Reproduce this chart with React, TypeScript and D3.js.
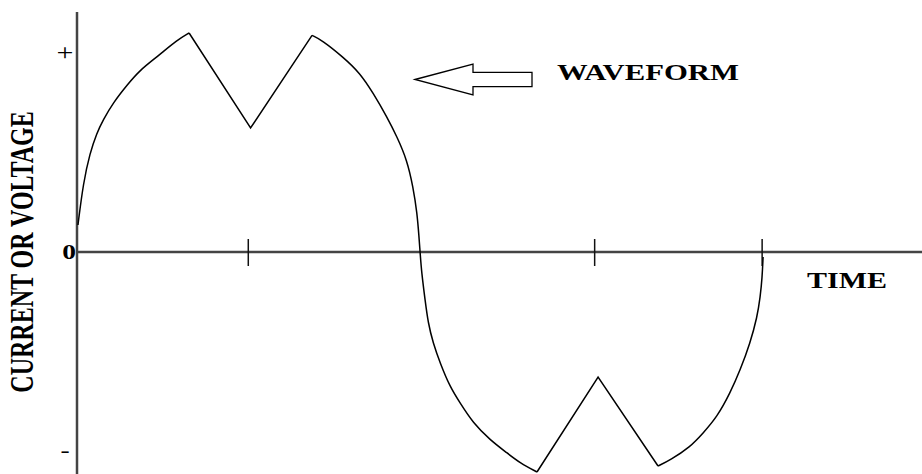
import React from "react";
import * as d3 from "d3";

// Waveform: phase in degrees, value in units of peak (+/- = 1)
const arc1Deg = [0.5, 3.3, 6.8, 10.4, 13.7, 18.9, 26.3, 33.1, 42.0, 52.6, 58.9];
const arc1Val = [0.135, 0.345, 0.495, 0.595, 0.66, 0.745, 0.835, 0.91, 0.975, 1.06, 1.095];
const notch1Deg = [58.9, 91.2, 123.5];
const notch1Val = [1.095, 0.62, 1.083];
const arc2Deg = [123.5, 128.6, 139.8, 148.7, 155.6, 162.9, 168.2, 173.4, 176.6, 178.7, 179.7, 180.3, 181.1, 182.9, 184.5, 187.1, 190.8, 196.0, 201.3, 208.1, 217.1, 226.0, 232.8, 241.7];
const arc2Val = [1.083, 1.06, 0.975, 0.895, 0.795, 0.675, 0.575, 0.46, 0.325, 0.195, 0.075, -0.005, -0.105, -0.24, -0.355, -0.455, -0.555, -0.675, -0.755, -0.855, -0.94, -1.005, -1.055, -1.1];
const notch2Deg = [241.7, 273.8, 305.3];
const notch2Val = [-1.1, -0.625, -1.07];
const arc3Deg = [305.3, 311.7, 322.2, 329.0, 336.3, 343.2, 348.5, 353.7, 357.4, 359.0, 360.0, 360.5];
const arc3Val = [-1.07, -1.04, -0.975, -0.905, -0.825, -0.705, -0.59, -0.455, -0.325, -0.225, -0.13, -0.025];

const xTickDeg = [90, 272, 360];
const yTickVals = [1, 0, -1];
const yTickLabels = ["+", "0", "-"];

const W = 922;
const H = 474;

const x = d3.scaleLinear().domain([0, 444]).range([77, 922]);
const y = d3.scaleLinear().domain([-1, 1]).range([452, 52]);

const zip = (a: number[], b: number[]) => a.map((d, i) => [d, b[i]] as [number, number]);

const smooth = d3
  .line<[number, number]>()
  .x((d) => x(d[0]))
  .y((d) => y(d[1]))
  .curve(d3.curveBasis);
const straight = d3
  .line<[number, number]>()
  .x((d) => x(d[0]))
  .y((d) => y(d[1]))
  .curve(d3.curveLinear);

export default function App() {
  const serif = "'Liberation Serif', 'Times New Roman', serif";
  const segs = [
    smooth(zip(arc1Deg, arc1Val)),
    straight(zip(notch1Deg, notch1Val)),
    smooth(zip(arc2Deg, arc2Val)),
    straight(zip(notch2Deg, notch2Val)),
    smooth(zip(arc3Deg, arc3Val)),
  ];
  const arrowY = 79.5;
  const arrow = [
    [415, arrowY],
    [473, arrowY - 15.5],
    [473, arrowY - 7.2],
    [532, arrowY - 7.2],
    [532, arrowY + 7.2],
    [473, arrowY + 7.2],
    [473, arrowY + 15.5],
  ];
  const labelPos = [
    { x: 65, dy: 8, size: 24, weight: "normal" },
    { x: 69, dy: 7, size: 22, weight: "bold" },
    { x: 65, dy: 5, size: 22, weight: "normal" },
  ];
  return (
    <svg
      width={W}
      height={H}
      style={{ position: "fixed", left: 0, top: 0, background: "#fff" }}
    >
      <rect width={W} height={H} fill="#fff" />
      {/* axes */}
      <line x1={x(0)} x2={x(0)} y1={12} y2={H} stroke="#444" strokeWidth={2.5} />
      <line x1={x(0)} x2={W} y1={y(0)} y2={y(0)} stroke="#444" strokeWidth={2.5} />
      {xTickDeg.map((t) => (
        <line
          key={t}
          x1={x(t)}
          x2={x(t)}
          y1={y(0.065)}
          y2={y(-0.07)}
          stroke="#111"
          strokeWidth={1.5}
        />
      ))}
      {/* waveform */}
      {segs.map((d, i) => (
        <path key={i} d={d || ""} fill="none" stroke="#000" strokeWidth={1.5} strokeLinejoin="miter" />
      ))}
      {/* y tick labels */}
      {yTickVals.map((v, i) => (
        <text
          key={i}
          transform={`translate(${labelPos[i].x},${y(v) + labelPos[i].dy}) scale(1.25,1)`}
          textAnchor="middle"
          fontFamily={serif}
          fontWeight={labelPos[i].weight}
          fontSize={labelPos[i].size}
          fill="#000"
        >
          {yTickLabels[i]}
        </text>
      ))}
      {/* y axis title */}
      <text
        transform={`translate(33,252) rotate(-90) scale(1,1.4)`}
        textAnchor="middle"
        fontFamily={serif}
        fontWeight="bold"
        fontSize={24}
        fill="#000"
      >
        CURRENT OR VOLTAGE
      </text>
      {/* x axis title */}
      <text
        transform={`translate(807,288) scale(1.25,1)`}
        fontFamily={serif}
        fontWeight="bold"
        fontSize={24}
        fill="#000"
      >
        TIME
      </text>
      {/* annotation */}
      <polygon
        points={arrow.map((p) => p.join(",")).join(" ")}
        fill="#fff"
        stroke="#000"
        strokeWidth={1.3}
      />
      <text
        transform={`translate(557,80) scale(1.28,1)`}
        fontFamily={serif}
        fontWeight="bold"
        fontSize={24}
        fill="#000"
      >
        WAVEFORM
      </text>
    </svg>
  );
}
